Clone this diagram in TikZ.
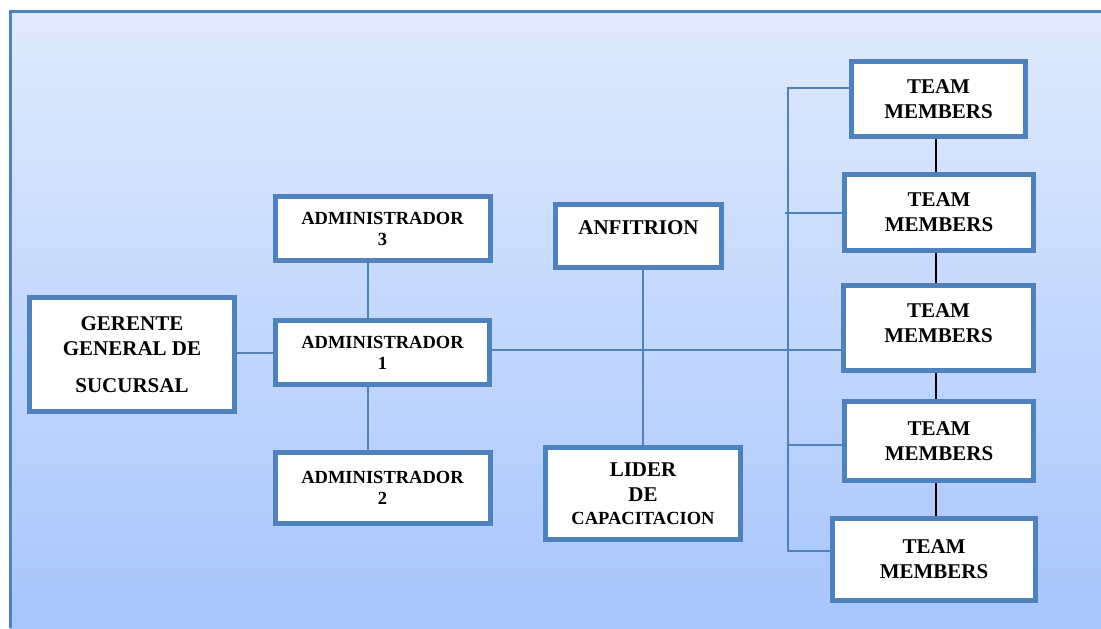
\documentclass[tikz,border=0pt]{standalone}
\usepackage{fontspec}
\setmainfont{Liberation Serif}
\usepackage{xcolor}
\usetikzlibrary{positioning,calc}
\definecolor{framblue}{RGB}{79,129,189}
\definecolor{bgtop}{RGB}{225,234,253}
\definecolor{bgbottom}{RGB}{167,198,252}

\begin{document}
\begin{tikzpicture}[
    x=0.5pt, y=-0.5pt,
    every node/.style={font=\bfseries\fontsize{10.5}{12.5}\selectfont, align=center},
    box/.style={draw=framblue, line width=2.5pt, fill=white, rectangle, inner sep=2pt},
    small/.style={font=\bfseries\fontsize{9.25}{10.5}\selectfont},
    link/.style={draw=framblue, line width=1pt},
    chain/.style={draw=black, line width=1pt}
]
\useasboundingbox (0,0) rectangle (1101,628);

% Background
\shade[top color=bgtop, bottom color=bgbottom] (10,11) rectangle (1101,628);
\draw[framblue, line width=1.5pt] (10,628) -- (10,11) -- (1101,11);

% Left part
\node[box, minimum width=102.5pt, minimum height=57pt] (gerente) at (132,354.5) {GERENTE\\GENERAL DE\\[6pt]SUCURSAL};
\node[box, small, minimum width=107pt, minimum height=32pt] (adm1) at (382.5,352.5) {ADMINISTRADOR\\1};
\node[box, small, minimum width=107.5pt, minimum height=32pt, above=27.5pt of adm1] (adm3) {ADMINISTRADOR\\3};
\node[box, small, minimum width=107.5pt, minimum height=35.5pt, below=31.5pt of adm1] (adm2) {ADMINISTRADOR\\2};

% Middle
\node[box, minimum width=83pt, minimum height=31.5pt, text depth=8pt] (anfitrion) at (638.5,236) {ANFITRION};
\node[box, minimum width=97.5pt, minimum height=46pt] (lider) at (643,493.5) {LIDER\\DE\\[-1pt]{\fontsize{9.25}{10.5}\selectfont CAPACITACION}};

% Team members
\node[box, minimum width=87pt, minimum height=37.5pt] (tm1) at (938.5,99) {TEAM\\MEMBERS};
\node[box, minimum width=94.5pt, minimum height=38pt] (tm2) at (939,212.5) {TEAM\\MEMBERS};
\node[box, minimum width=95pt, minimum height=42.5pt, text depth=5pt] (tm3) at (938.5,328) {TEAM\\MEMBERS};
\node[box, minimum width=94.5pt, minimum height=39.5pt] (tm4) at (939,441) {TEAM\\MEMBERS};
\node[box, minimum width=101.5pt, minimum height=41pt] (tm5) at (934,559.5) {TEAM\\MEMBERS};

\coordinate (bustop) at (788,88);
\coordinate (busbot) at (788,551);

% Connectors
\draw[link] (gerente.east |- adm1.west) -- (adm1.west);
\draw[link] ([xshift=-7.5pt]adm3.south) -- ([xshift=-7.5pt]adm1.north);
\draw[link] ([xshift=-7.5pt]adm1.south) -- ([xshift=-7.5pt]adm2.north);
\draw[link] ([yshift=1.5pt]adm1.east) -- ([yshift=1.5pt]adm1.east -| tm3.west);
\draw[link] (lider.north |- anfitrion.south) -- (lider.north);
\draw[link] (tm1.west |- bustop) -- (bustop) -- (busbot) -- (busbot -| tm5.west);
\draw[link] (tm2.west) -- ([xshift=-1.5pt]tm2.west -| bustop);
\draw[link] ([xshift=1.5pt,yshift=-2pt]tm4.west) -- ([yshift=-2pt]tm4.west -| bustop);

\foreach \a/\b in {tm1/tm2, tm2/tm3, tm3/tm4, tm4/tm5}
    \draw[chain] (\a.south -| 936,0) -- (\b.north -| 936,0);

\end{tikzpicture}
\end{document}
